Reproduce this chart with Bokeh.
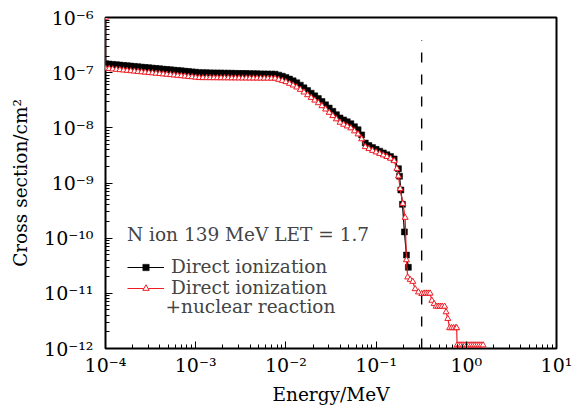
from bokeh.plotting import figure
from bokeh.models import Legend, LegendItem, Label, ColumnDataSource
from bokeh.embed import file_html
from bokeh.resources import INLINE

# ---------------- data ----------------
energy_main = [
    1.000e-4, 1.096e-4, 1.202e-4, 1.318e-4, 1.445e-4, 1.585e-4, 1.738e-4, 1.905e-4, 2.089e-4, 2.291e-4,
    2.512e-4, 2.754e-4, 3.020e-4, 3.311e-4, 3.631e-4, 3.981e-4, 4.365e-4, 4.786e-4, 5.248e-4, 5.754e-4,
    6.310e-4, 6.918e-4, 7.586e-4, 8.318e-4, 9.120e-4, 1.000e-3,
    1.096e-3, 1.202e-3, 1.318e-3, 1.445e-3, 1.585e-3, 1.738e-3, 1.905e-3, 2.089e-3, 2.291e-3, 2.512e-3,
    2.754e-3, 3.020e-3, 3.311e-3, 3.631e-3, 3.981e-3, 4.365e-3, 4.786e-3, 5.248e-3, 5.754e-3, 6.310e-3,
    6.918e-3, 7.586e-3,
    8.318e-3, 9.120e-3, 1.000e-2, 1.096e-2, 1.202e-2, 1.318e-2, 1.445e-2, 1.585e-2, 1.738e-2, 1.905e-2,
    2.089e-2, 2.291e-2, 2.512e-2, 2.754e-2, 3.020e-2, 3.311e-2, 3.631e-2, 3.981e-2, 4.365e-2, 4.786e-2,
    5.248e-2, 5.754e-2, 6.310e-2, 6.918e-2, 7.586e-2, 8.318e-2, 9.120e-2, 1.000e-1, 1.096e-1, 1.202e-1,
    1.318e-1, 1.445e-1, 1.585e-1,
]

direct_main = [
    1.452e-7, 1.432e-7, 1.413e-7, 1.393e-7, 1.371e-7, 1.352e-7, 1.334e-7, 1.315e-7, 1.297e-7, 1.279e-7,
    1.259e-7, 1.242e-7, 1.225e-7, 1.208e-7, 1.191e-7, 1.175e-7, 1.156e-7, 1.140e-7, 1.125e-7, 1.109e-7,
    1.094e-7, 1.079e-7, 1.062e-7, 1.047e-7, 1.033e-7, 1.019e-7,
    1.000e-7, 9.97e-8, 9.94e-8, 9.91e-8, 9.88e-8, 9.85e-8, 9.82e-8, 9.79e-8, 9.76e-8, 9.73e-8,
    9.70e-8, 9.67e-8, 9.64e-8, 9.61e-8, 9.58e-8, 9.55e-8, 9.52e-8, 9.49e-8, 9.46e-8, 9.43e-8,
    9.40e-8, 9.38e-8,
    9.02e-8, 8.61e-8, 8.20e-8, 7.64e-8, 7.11e-8, 6.56e-8, 5.94e-8, 5.31e-8, 4.75e-8, 4.25e-8,
    3.80e-8, 3.40e-8, 3.00e-8, 2.61e-8, 2.28e-8, 1.99e-8, 1.73e-8, 1.51e-8, 1.39e-8, 1.29e-8,
    1.19e-8, 1.05e-8, 9.25e-9, 7.45e-9, 5.30e-9, 4.78e-9, 4.39e-9, 4.07e-9, 3.78e-9, 3.51e-9,
    3.25e-9, 3.02e-9, 2.73e-9,
]

nuclear_main = [
    1.191e-7, 1.175e-7, 1.156e-7, 1.140e-7, 1.122e-7, 1.107e-7, 1.089e-7, 1.074e-7, 1.057e-7, 1.042e-7,
    1.026e-7, 1.012e-7, 9.95e-8, 9.82e-8, 9.68e-8, 9.53e-8, 9.40e-8, 9.25e-8, 9.12e-8, 8.98e-8,
    8.85e-8, 8.71e-8, 8.59e-8, 8.45e-8, 8.34e-8, 8.20e-8,
    8.06e-8, 8.05e-8, 8.04e-8, 8.03e-8, 8.02e-8, 8.01e-8, 8.00e-8, 7.99e-8, 7.98e-8, 7.97e-8,
    7.96e-8, 7.95e-8, 7.94e-8, 7.93e-8, 7.92e-8, 7.91e-8, 7.90e-8, 7.89e-8, 7.88e-8, 7.87e-8,
    7.86e-8, 7.85e-8,
    7.49e-8, 7.15e-8, 6.81e-8, 6.34e-8, 5.90e-8, 5.44e-8, 4.93e-8, 4.41e-8, 3.94e-8, 3.53e-8,
    3.15e-8, 2.82e-8, 2.49e-8, 2.17e-8, 1.89e-8, 1.65e-8, 1.44e-8, 1.25e-8, 1.15e-8, 1.07e-8,
    9.88e-9, 8.72e-9, 7.68e-9, 6.26e-9, 4.51e-9, 4.16e-9, 3.86e-9, 3.62e-9, 3.40e-9, 3.19e-9,
    2.99e-9, 2.78e-9, 2.51e-9,
]

energy_direct_tail = [0.177, 0.182, 0.188, 0.196, 0.206, 0.217, 0.228]
direct_tail = [1.82e-9, 1.33e-9, 7.48e-10, 4.10e-10, 1.30e-10, 4.94e-11, 2.96e-11]

energy_nuclear_head = [1.0e-4]
nuclear_head = [1.0e-6]
energy_nuclear_tail = [
    0.170, 0.177, 0.185, 0.198, 0.210, 0.217, 0.224, 0.239, 0.255, 0.271,
    0.295, 0.321, 0.341, 0.359, 0.378, 0.397, 0.415, 0.440, 0.463, 0.488,
    0.513, 0.540, 0.575, 0.597, 0.624, 0.653, 0.687, 0.723, 0.762, 0.782,
    0.791, 0.832, 0.875, 0.923, 0.971, 1.021, 1.074, 1.130, 1.189, 1.250,
    1.318, 1.387, 1.459, 1.535,
]
nuclear_tail = [
    1.82e-9, 1.33e-9, 7.85e-10, 4.22e-10, 2.36e-10, 4.02e-11, 1.96e-11, 1.77e-11, 1.63e-11, 1.20e-11,
    1.05e-11, 9.8e-12, 1.0e-11, 1.0e-11, 1.0e-11, 1.0e-11, 7.4e-12, 6.46e-12, 5.78e-12, 5.78e-12,
    5.78e-12, 5.78e-12, 5.78e-12, 4.58e-12, 3.47e-12, 2.36e-12, 2.36e-12, 2.36e-12, 2.36e-12, 2.36e-12,
    1.15e-12, 1.15e-12, 1.15e-12, 1.15e-12, 1.15e-12, 1.15e-12, 1.15e-12, 1.15e-12, 1.15e-12, 1.15e-12,
    1.15e-12, 1.15e-12, 1.15e-12, 1.15e-12,
]

cutoff_energy = [0.32, 0.32]
cutoff_sigma = [1.0e-12, 3.9e-7]

x_ticks = [1e-4, 1e-3, 1e-2, 1e-1, 1e0, 1e1]
x_tick_labels = ["10⁻⁴", "10⁻³", "10⁻²", "10⁻¹", "10⁰", "10¹"]
y_ticks = [1e-12, 1e-11, 1e-10, 1e-9, 1e-8, 1e-7, 1e-6]
y_tick_labels = ["10⁻¹²", "10⁻¹¹", "10⁻¹⁰", "10⁻⁹", "10⁻⁸", "10⁻⁷", "10⁻⁶"]

legend_title = "N ion 139 MeV LET = 1.7"
series_names = ["Direct ionization", "Direct ionization", "+nuclear reaction"]
x_title = "Energy/MeV"
y_title = "Cross section/cm²"

# ---------------- styling ----------------
FONT = "DejaVu Serif"
FS_TICK = "19px"
FS = "18.5px"
RED = "#ee1c24"

direct_src = ColumnDataSource(dict(x=energy_main + energy_direct_tail,
                                   y=direct_main + direct_tail))
nuclear_src = ColumnDataSource(dict(x=energy_nuclear_head + energy_main + energy_nuclear_tail,
                                    y=nuclear_head + nuclear_main + nuclear_tail))

p = figure(width=576, height=407, x_axis_type="log", y_axis_type="log",
           x_range=(1e-4, 10), y_range=(1e-12, 1e-6),
           output_backend="svg", toolbar_location=None,
           min_border_left=105, min_border_right=20, min_border_top=17, min_border_bottom=57)

p.grid.visible = False
p.outline_line_color = "black"
p.outline_line_width = 2

for ax in (p.xaxis[0], p.yaxis[0]):
    ax.axis_line_color = None
    ax.major_tick_in = 7
    ax.major_tick_out = 0
    ax.minor_tick_in = 4
    ax.minor_tick_out = 0
    ax.major_label_text_font = FONT
    ax.major_label_text_font_size = FS_TICK
    ax.major_label_text_color = "black"
    ax.axis_label_text_font = FONT
    ax.axis_label_text_font_size = FS
    ax.axis_label_text_font_style = "normal"
    ax.axis_label_text_color = "black"

p.xaxis[0].major_label_overrides = dict(zip(x_ticks, x_tick_labels))
p.yaxis[0].major_label_overrides = dict(zip(y_ticks, y_tick_labels))
p.xaxis[0].axis_label = x_title
p.yaxis[0].axis_label = y_title
p.xaxis[0].major_label_standoff = 5
p.xaxis[0].axis_label_standoff = 5
p.yaxis[0].major_label_standoff = 12
p.yaxis[0].axis_label_standoff = 10

p.line(cutoff_energy, cutoff_sigma, line_color="black", line_width=1.4, line_dash="10 12")

l_black = p.line("x", "y", source=direct_src, line_color="black", line_width=1.2)
s_black = p.scatter("x", "y", source=direct_src, marker="square", size=6,
                    fill_color="black", line_color="black", line_width=0.5)

l_red = p.line("x", "y", source=nuclear_src, line_color=RED, line_width=1.2)
s_red = p.scatter("x", "y", source=nuclear_src, marker="triangle", size=6,
                  fill_color="white", line_color=RED, line_width=1)

legend = Legend(items=[LegendItem(label=series_names[0], renderers=[l_black, s_black]),
                       LegendItem(label=series_names[1], renderers=[l_red, s_red])],
                title=legend_title, location=(22, 50),
                padding=0, margin=0, spacing=-7,
                border_line_color=None, background_fill_alpha=0,
                glyph_width=37, glyph_height=16, label_standoff=7, label_height=16,
                label_text_font=FONT, label_text_font_size=FS,
                title_text_font=FONT, title_text_font_size=FS, title_text_font_style="normal",
                title_standoff=11)
p.add_layout(legend)

p.add_layout(Label(x=60, y=42, x_units="screen", y_units="screen", text=series_names[2],
                   text_font=FONT, text_font_size=FS, text_baseline="middle"))

open("out.html", "w").write(file_html(p, INLINE))
